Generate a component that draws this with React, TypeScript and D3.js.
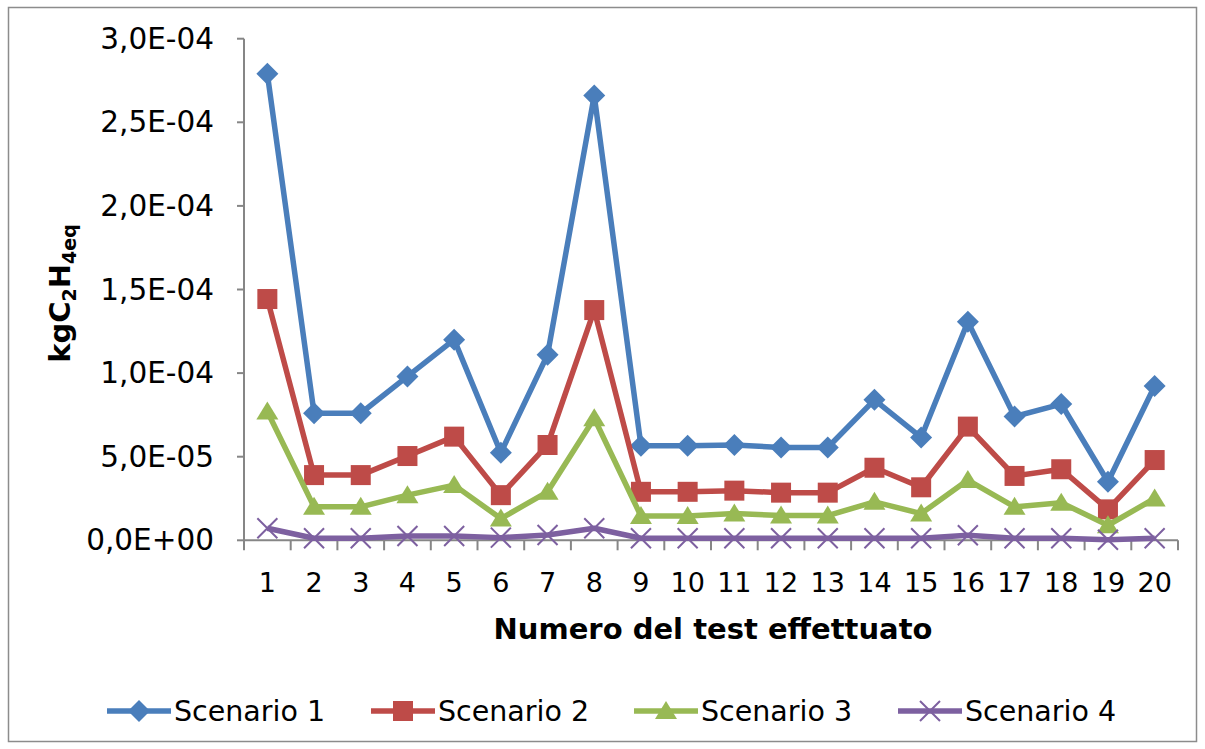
import React from "react";
import * as d3 from "d3";

const categories = ["1","2","3","4","5","6","7","8","9","10","11","12","13","14","15","16","17","18","19","20"];
const scenario1 = [2.79e-4,0.76e-4,0.76e-4,0.98e-4,1.20e-4,0.524e-4,1.11e-4,2.66e-4,0.566e-4,0.566e-4,0.57e-4,0.555e-4,0.555e-4,0.84e-4,0.615e-4,1.307e-4,0.74e-4,0.815e-4,0.35e-4,0.923e-4];
const scenario2 = [1.443e-4,0.39e-4,0.39e-4,0.504e-4,0.62e-4,0.27e-4,0.57e-4,1.377e-4,0.29e-4,0.29e-4,0.297e-4,0.285e-4,0.285e-4,0.434e-4,0.317e-4,0.68e-4,0.385e-4,0.425e-4,0.185e-4,0.48e-4];
const scenario3 = [0.77e-4,0.20e-4,0.20e-4,0.27e-4,0.33e-4,0.13e-4,0.29e-4,0.73e-4,0.145e-4,0.145e-4,0.16e-4,0.148e-4,0.148e-4,0.23e-4,0.16e-4,0.36e-4,0.20e-4,0.225e-4,0.09e-4,0.25e-4];
const scenario4 = [0.072e-4,0.012e-4,0.012e-4,0.026e-4,0.026e-4,0.016e-4,0.032e-4,0.072e-4,0.012e-4,0.012e-4,0.012e-4,0.012e-4,0.012e-4,0.012e-4,0.012e-4,0.03e-4,0.012e-4,0.012e-4,0.003e-4,0.012e-4];
const seriesNames = ["Scenario 1", "Scenario 2", "Scenario 3", "Scenario 4"];
const yTicks = [0, 0.5e-4, 1.0e-4, 1.5e-4, 2.0e-4, 2.5e-4, 3.0e-4];

const colors = ["#4A7EBB", "#BE4B48", "#98B954", "#7D60A0"];
const markerKinds = ["diamond", "square", "triangle", "x"];

const FONT = "'DejaVu Sans', Verdana, sans-serif";

function fmt(v: number): string {
  const s = v.toExponential(1);
  const [m, e] = s.split("e");
  const sign = e.startsWith("-") ? "-" : "+";
  const num = Math.abs(parseInt(e, 10));
  return m.replace(".", ",") + "E" + sign + String(num).padStart(2, "0");
}

function Marker({ kind, color, x, y }: { kind: string; color: string; x: number; y: number }) {
  const t = `translate(${x},${y})`;
  if (kind === "diamond") return <path transform={t} d="M0,-11L11,0L0,11L-11,0Z" fill={color} />;
  if (kind === "square") return <rect transform={t} x={-10} y={-10} width={20} height={20} fill={color} />;
  if (kind === "triangle") return <path transform={t} d="M0,-10L11,8L-11,8Z" fill={color} />;
  return <path transform={t} d="M-10,-10L10,10M10,-10L-10,10" stroke={color} strokeWidth={2} fill="none" />;
}

export default function App() {
  const left = 244, right = 1178, top = 38.7, bottom = 540.3;
  const x = d3.scaleBand<string>().domain(categories).range([left, right]).padding(0);
  const y = d3.scaleLinear().domain([0, 3e-4]).range([bottom, top]);
  const cx = (c: string) => (x(c) as number) + x.bandwidth() / 2;
  const series = [scenario1, scenario2, scenario3, scenario4];
  const line = d3.line<number>().x((_, i) => cx(categories[i])).y((d) => y(d));
  const legendX = [107, 371, 634, 898];
  const legendY = 711;

  return (
    <svg width={1205} height={749} style={{ position: "absolute", left: 0, top: 0, background: "#fff" }} fontFamily={FONT}>
      <rect x={8.5} y={7.5} width={1188} height={734} fill="#fff" stroke="#8C8C8C" strokeWidth={1.5} />
      <line x1={left} x2={left} y1={top} y2={bottom} stroke="#868686" strokeWidth={2} />
      {yTicks.map((t) => (
        <g key={t}>
          <line x1={left - 7} x2={left} y1={y(t)} y2={y(t)} stroke="#868686" strokeWidth={2} />
          <text x={214} y={y(t)} textAnchor="end" dominantBaseline="central" fontSize={29.5} fill="#000">{fmt(t)}</text>
        </g>
      ))}
      <line x1={left} x2={right} y1={bottom} y2={bottom} stroke="#868686" strokeWidth={2} />
      {categories.map((c) => (
        <line key={"t" + c} x1={x(c) as number} x2={x(c) as number} y1={bottom} y2={bottom + 10} stroke="#868686" strokeWidth={2} />
      ))}
      <line x1={right} x2={right} y1={bottom} y2={bottom + 10} stroke="#868686" strokeWidth={2} />
      {categories.map((c) => (
        <text key={"l" + c} x={cx(c)} y={582} textAnchor="middle" dominantBaseline="central" fontSize={27} fill="#000">{c}</text>
      ))}
      <text x={(left + right) / 2 + 2} y={629} textAnchor="middle" dominantBaseline="central" fontSize={29} fontWeight="bold" fill="#000">Numero del test effettuato</text>
      <text transform={`translate(70,${(top + bottom) / 2 + 4}) rotate(-90)`} textAnchor="middle" fontSize={29} fontWeight="bold" fill="#000">
        kgC<tspan fontSize={19} dy={6}>2</tspan><tspan dy={-6}>H</tspan><tspan fontSize={19} dy={6}>4eq</tspan>
      </text>
      {series.map((s, si) => (
        <g key={"s" + si}>
          <path d={line(s) as string} fill="none" stroke={colors[si]} strokeWidth={5.5} strokeLinejoin="round" />
          {s.map((v, i) => (
            <Marker key={i} kind={markerKinds[si]} color={colors[si]} x={cx(categories[i])} y={y(v)} />
          ))}
        </g>
      ))}
      {seriesNames.map((n, i) => (
        <g key={"lg" + i}>
          <line x1={legendX[i]} x2={legendX[i] + 64} y1={legendY} y2={legendY} stroke={colors[i]} strokeWidth={5.5} />
          <Marker kind={markerKinds[i]} color={colors[i]} x={legendX[i] + 32} y={legendY} />
          <text x={legendX[i] + 67} y={legendY} dominantBaseline="central" fontSize={28.5} fill="#000">{n}</text>
        </g>
      ))}
    </svg>
  );
}
